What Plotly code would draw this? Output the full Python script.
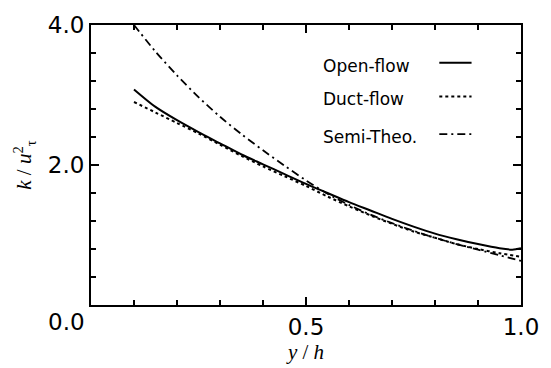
import plotly.graph_objects as go

# ---- data ----
x_open = [0.10, 0.15, 0.20, 0.25, 0.30, 0.35, 0.40, 0.45, 0.50, 0.55, 0.60,
          0.65, 0.70, 0.75, 0.80, 0.85, 0.90, 0.95, 0.98, 1.00]
k_open = [3.08, 2.83, 2.64, 2.47, 2.31, 2.15, 2.01, 1.87, 1.73, 1.60, 1.47,
          1.35, 1.23, 1.12, 1.02, 0.94, 0.87, 0.81, 0.79, 0.81]

x_duct = [0.10, 0.15, 0.20, 0.25, 0.30, 0.35, 0.40, 0.45, 0.50, 0.55, 0.60,
          0.65, 0.70, 0.75, 0.80, 0.85, 0.90, 0.95, 1.00]
k_duct = [2.90, 2.75, 2.60, 2.45, 2.29, 2.13, 1.98, 1.84, 1.70, 1.55, 1.41,
          1.28, 1.16, 1.05, 0.96, 0.87, 0.80, 0.74, 0.69]

x_semi = [0.10, 0.15, 0.20, 0.25, 0.30, 0.35, 0.40, 0.45, 0.50, 0.55, 0.60,
          0.65, 0.70, 0.75, 0.80, 0.85, 0.90, 0.95, 1.00]
k_semi = [4.00, 3.62, 3.28, 2.97, 2.69, 2.44, 2.21, 1.99, 1.78, 1.59, 1.43,
          1.29, 1.17, 1.06, 0.96, 0.87, 0.79, 0.71, 0.63]

series_names = ["Open-flow", "Duct-flow", "Semi-Theo."]
x_tickvals = [0.5, 1.0]
x_ticktext = ["0.5", "1.0"]
y_tickvals = [2.0, 4.0]
y_ticktext = ["2.0", "4.0"]

dashes = ["solid", "3px,3px", "8px,4px,2px,4px"]
widths = [2, 2, 1.8]

fig = go.Figure()
for xs, ks, name, d, w in zip([x_open, x_duct, x_semi], [k_open, k_duct, k_semi],
                              series_names, dashes, widths):
    fig.add_trace(go.Scatter(x=xs, y=ks, mode="lines", name=name,
                             line=dict(color="black", width=w, dash=d, shape="spline",
                                       smoothing=0.8),
                             showlegend=False))

num_font = dict(family="DejaVu Sans", size=23, color="black")

fig.update_layout(
    width=551, height=368,
    margin=dict(l=91, r=28, t=21, b=60),
    paper_bgcolor="white", plot_bgcolor="white",
    xaxis=dict(range=[0, 1], showgrid=False, zeroline=False,
               showline=True, linecolor="black", linewidth=2, mirror="allticks",
               ticks="inside", ticklen=8, tickwidth=1.5, tickcolor="black",
               tickvals=x_tickvals, ticktext=x_ticktext, tickfont=num_font,
               minor=dict(dtick=0.1, ticks="inside", ticklen=5, tickwidth=1.5,
                          tickcolor="black", showgrid=False),
               title=dict(text="<i>y</i> / <i>h</i>", standoff=2,
                          font=dict(family="Liberation Serif", size=21, color="black"))),
    yaxis=dict(range=[0, 4], showgrid=False, zeroline=False,
               showline=True, linecolor="black", linewidth=2, mirror="allticks",
               ticks="inside", ticklen=8, tickwidth=1.5, tickcolor="black",
               tickvals=y_tickvals, ticktext=y_ticktext, tickfont=num_font,
               minor=dict(dtick=0.4, ticks="inside", ticklen=5, tickwidth=1.5,
                          tickcolor="black", showgrid=False),
               title=dict(text="<i>k</i> / <i>u</i><sup>2</sup><sub>τ</sub>", standoff=10,
                          font=dict(family="Liberation Serif", size=21, color="black"))),
)

# shared "0.0" label at the origin
fig.add_annotation(x=0, y=0, xref="x", yref="y", text="0.0", showarrow=False,
                   xanchor="right", yanchor="top", xshift=-4, yshift=-2, font=num_font)

# legend (text on the left, line sample on the right)
leg_y = [0.855, 0.735, 0.60]
for name, d, w, yy in zip(series_names, dashes, widths, leg_y):
    fig.add_annotation(x=0.535, y=yy, xref="paper", yref="paper", text=name,
                       showarrow=False, xanchor="left", yanchor="middle",
                       font=dict(family="DejaVu Sans", size=17, color="black"))
    fig.add_shape(type="line", xref="paper", yref="paper",
                  x0=0.81, x1=0.885, y0=yy + 0.01, y1=yy + 0.01,
                  line=dict(color="black", width=w, dash=d))

fig.write_html("out.html")
